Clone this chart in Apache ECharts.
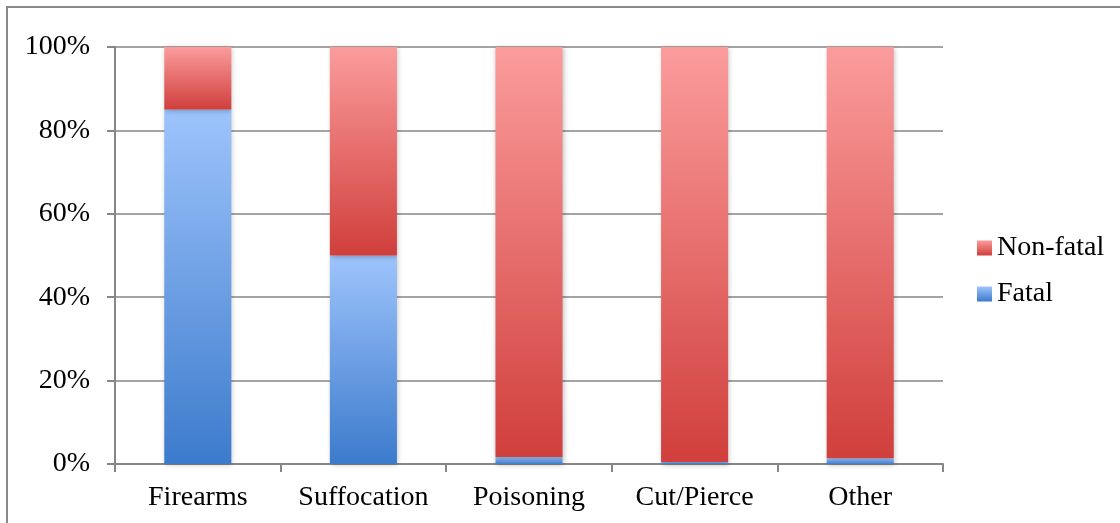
<!DOCTYPE html>
<html>
<head>
<meta charset="utf-8">
<script src="https://cdn.jsdelivr.net/npm/echarts@6/dist/echarts.min.js"></script>
<style>
  html, body { margin: 0; padding: 0; background: #fff; }
  #chart { width: 1120px; height: 523px; }
</style>
</head>
<body>
<div id="chart"></div>
<script>
const categories = ['Firearms', 'Suffocation', 'Poisoning', 'Cut/Pierce', 'Other']
const fatal = [85, 50, 1.7, 0.5, 1.4]
const nonFatal = [15, 50, 98.3, 99.5, 98.6]
const yTicks = [0, 20, 40, 60, 80, 100]

const font = 'Liberation Serif'
const axisGray = '#868686'

const grad = (top, bottom) => new echarts.graphic.LinearGradient(0, 0, 0, 1, [
  { offset: 0, color: top },
  { offset: 1, color: bottom }
])

const barShadow = {
  shadowBlur: 5,
  shadowColor: 'rgba(0,0,0,0.25)',
  shadowOffsetX: 1,
  shadowOffsetY: 1
}

const chart = echarts.init(document.getElementById('chart'))
chart.setOption({
  animation: false,
  graphic: [{
    type: 'rect',
    shape: { x: 7, y: 7, width: 1130, height: 530 },
    style: { fill: 'none', stroke: '#8a8a8a', lineWidth: 2 },
    silent: true
  }],
  legend: {
    orient: 'vertical',
    left: 972,
    top: 229,
    itemWidth: 15,
    itemHeight: 15,
    itemGap: 18,
    icon: 'rect',
    data: ['Non-fatal', 'Fatal'],
    textStyle: { fontFamily: font, fontSize: 28, color: '#000' }
  },
  grid: { left: 115, right: 177, top: 47, bottom: 59 },
  xAxis: {
    type: 'category',
    data: categories,
    axisLine: { lineStyle: { color: axisGray, width: 2 } },
    axisTick: { show: true, length: 8, lineStyle: { color: axisGray, width: 2 } },
    axisLabel: { interval: 0, fontFamily: font, fontSize: 28, color: '#000', margin: 20 }
  },
  yAxis: {
    type: 'value',
    min: yTicks[0],
    max: yTicks[yTicks.length - 1],
    interval: 20,
    axisLine: { show: true, lineStyle: { color: axisGray, width: 2 } },
    axisTick: { show: true, length: 8, lineStyle: { color: axisGray, width: 2 } },
    splitLine: { show: true, lineStyle: { color: axisGray, width: 1.5 } },
    axisLabel: { fontFamily: font, fontSize: 28, color: '#000', margin: 25, formatter: '{value}%' }
  },
  series: [
    {
      name: 'Fatal',
      type: 'bar',
      stack: 'all',
      barWidth: '40.5%',
      data: fatal,
      itemStyle: Object.assign({ color: grad('#9ec4fc', '#3c7bcc') }, barShadow)
    },
    {
      name: 'Non-fatal',
      type: 'bar',
      stack: 'all',
      data: nonFatal,
      itemStyle: Object.assign({ color: grad('#fb9c9c', '#d03f3c') }, barShadow)
    }
  ]
})
</script>
</body>
</html>
